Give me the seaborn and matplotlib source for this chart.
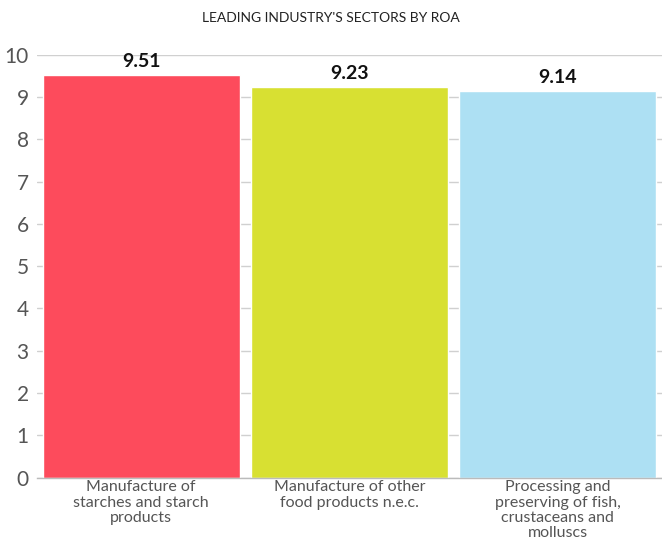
import matplotlib
matplotlib.use("Agg")
import matplotlib.pyplot as plt
import seaborn as sns
import pandas as pd
from matplotlib.ticker import FixedLocator

# chart data
sectors = [
    "Manufacture of\nstarches and starch\nproducts",
    "Manufacture of other\nfood products n.e.c.",
    "Processing and\npreserving of fish,\ncrustaceans and\nmolluscs",
]
roa = [9.51, 9.23, 9.14]
bar_colors = ["#FD4B5C", "#D8E032", "#ADE0F3"]

df = pd.DataFrame({"sector": sectors, "roa": roa})

sns.set_theme(style="white")
plt.rcParams["font.family"] = ["Lato", "DejaVu Sans"]

fig = plt.figure(figsize=(6.62, 5.49), dpi=100)
ax = fig.add_axes([0.056, 0.13, 0.944, 0.7705])

sns.barplot(data=df, x="sector", y="roa", hue="sector", palette=bar_colors,
            width=0.945, saturation=1, legend=False, ax=ax, zorder=2)

ax.set_ylim(0, 10)
ax.set_xlim(-0.5, 2.5)
ax.set_yticks(range(0, 11))
ax.yaxis.grid(True, color="#d0d0d0", linewidth=1, zorder=0)
ax.set_axisbelow(True)
ax.tick_params(axis="y", length=0, labelsize=15, labelcolor="#555555", pad=6)
ax.tick_params(axis="x", which="major", length=0, labelsize=11.5, labelcolor="#555555", pad=2)
ax.xaxis.set_minor_locator(FixedLocator([-0.5, 0.5, 1.5, 2.5]))
ax.tick_params(axis="x", which="minor", length=4, color="#bbbbbb", width=1, direction="out")
for lbl in ax.get_xticklabels():
    lbl.set_linespacing(1.12)

for s in ["top", "right", "left"]:
    ax.spines[s].set_visible(False)
ax.spines["bottom"].set_color("#bbbbbb")
ax.spines["bottom"].set_linewidth(1)

ax.set_xlabel("")
ax.set_ylabel("")

for i, v in enumerate(roa):
    ax.text(i, v + 0.12, f"{v:.2f}", ha="center", va="bottom",
            fontsize=14, fontweight="bold", color="#111111")

fig.text(0.5, 0.967, "LEADING INDUSTRY'S SECTORS BY ROA", ha="center", va="center",
         fontsize=10, color="#222222")

fig.savefig("out.png", dpi=100)
